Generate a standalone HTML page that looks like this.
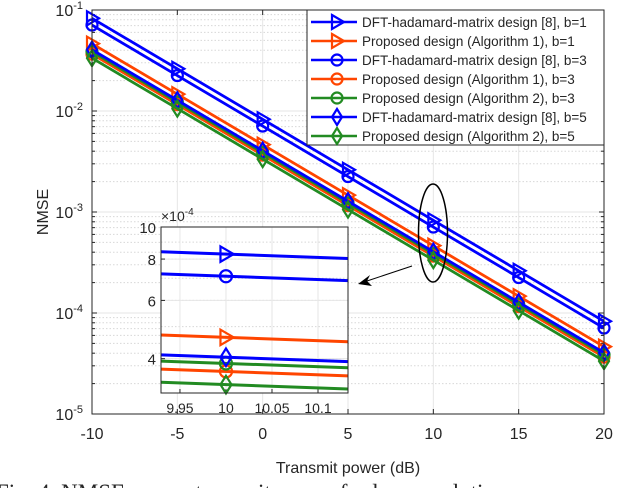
<!DOCTYPE html>
<html><head><meta charset="utf-8"><style>
body{margin:0;background:#fff;width:632px;height:488px;overflow:hidden}
svg text{font-family:"Liberation Sans",sans-serif;fill:#262626}
</style></head><body>
<svg id="c" width="632" height="488" xmlns="http://www.w3.org/2000/svg"></svg>
<script>
const xs=[-10,-5,0,5,10,15,20];
const names=["DFT-hadamard-matrix design [8], b=1","Proposed design (Algorithm 1), b=1","DFT-hadamard-matrix design [8], b=3","Proposed design (Algorithm 1), b=3","Proposed design (Algorithm 2), b=3","DFT-hadamard-matrix design [8], b=5","Proposed design (Algorithm 2), b=5"];
const colors=["#0000ff","#ff4500","#0000ff","#ff4500","#228b22","#0000ff","#228b22"];
const markers=["tri","tri","circ","circ","circ","diam","diam"];
const val10=[8.28e-4,4.64e-4,7.1e-4,3.66e-4,3.87e-4,4.04e-4,3.34e-4];
const xTicks=[-10,-5,0,5,10,15,20];
const yTicks=[-5,-4,-3,-2,-1];
const insetXTicks=[9.95,10,10.05,10.1];
const insetYTicks=[4,6,8,10];
const NS="http://www.w3.org/2000/svg";
const svg=document.getElementById('c');
function mk(t,a,p){const e=document.createElementNS(NS,t);for(const k in a)e.setAttribute(k,a[k]);(p||svg).appendChild(e);return e;}
const L=92,R=604,T=10,B=414;
const X=v=>L+(v+10)/30*(R-L);
const Y=v=>T+(-1-Math.log10(v))/4*(B-T);
const series=val10.map(v=>xs.map(x=>v*Math.pow(10,-(x-10)/10)));
for(let d=-5;d<-1;d++){for(let m=2;m<10;m++){const y=Y(m*Math.pow(10,d));const g=mk('line',{x1:L,x2:R,y1:y,y2:y,stroke:'#d8d8d8','stroke-dasharray':'1.5,2','stroke-width':1});}}
yTicks.forEach(t=>{const y=Y(Math.pow(10,t));const g=mk('line',{x1:L,x2:R,y1:y,y2:y,stroke:'#e6e6e6','stroke-width':1});
mk('line',{x1:L,x2:L+5,y1:y,y2:y,stroke:'#262626'});mk('line',{x1:R,x2:R-5,y1:y,y2:y,stroke:'#262626'});
const tx=mk('text',{x:L-9,y:y+6,'text-anchor':'end','font-size':16});tx.innerHTML='10<tspan dy="-7" font-size="11">'+t+'</tspan>';});
for(let d=-5;d<-1;d++)for(let m=2;m<10;m++){const y=Y(m*Math.pow(10,d));mk('line',{x1:L,x2:L+3,y1:y,y2:y,stroke:'#262626'});mk('line',{x1:R,x2:R-3,y1:y,y2:y,stroke:'#262626'});}
xTicks.forEach(t=>{const x=X(t);const g=mk('line',{x1:x,x2:x,y1:T,y2:B,stroke:'#e6e6e6'});
mk('line',{x1:x,x2:x,y1:B,y2:B-5,stroke:'#262626'});mk('line',{x1:x,x2:x,y1:T,y2:T+5,stroke:'#262626'});
const tx=mk('text',{x:x,y:B+25,'text-anchor':'middle','font-size':16});tx.textContent=t;});
function marker(type,x,y,c,p,s){s=s||1;let e;if(type==='tri')e=mk('path',{d:`M${x-5*s},${y-7*s}L${x+7*s},${y}L${x-5*s},${y+7*s}Z`,fill:'none',stroke:c,'stroke-width':2.2},p);
else if(type==='circ')e=mk('circle',{cx:x,cy:y,r:5.5*s,fill:'none',stroke:c,'stroke-width':2.2},p);
else e=mk('path',{d:`M${x},${y-8*s}L${x+5*s},${y}L${x},${y+8*s}L${x-5*s},${y}Z`,fill:'none',stroke:c,'stroke-width':2.2},p);return e;}
series.forEach((s,i)=>{const g=mk('g',{});
mk('polyline',{points:s.map((v,j)=>X(xs[j])+','+Y(v)).join(' '),fill:'none',stroke:colors[i],'stroke-width':2.8},g);
s.forEach((v,j)=>marker(markers[i],X(xs[j]),Y(v),colors[i],g));});
const ax=mk('rect',{x:L,y:T,width:R-L,height:B-T,fill:'none',stroke:'#262626','stroke-width':1});
let t=mk('text',{x:348,y:473,'text-anchor':'middle','font-size':16});t.textContent='Transmit power (dB)';
t=mk('text',{x:0,y:0,'text-anchor':'middle','font-size':16,transform:'translate(48,212) rotate(-90)'});t.textContent='NMSE';
t=mk('text',{x:-4,y:500,'font-size':23});t.setAttribute('style','font-family:"Liberation Serif",serif');t.textContent='Fig. 4. NMSE versus transmit power for low-resolution';
const el=mk('ellipse',{cx:433,cy:233,rx:14.5,ry:49,fill:'none',stroke:'#000','stroke-width':1.5});
const ar=mk('line',{x1:412,y1:266,x2:364,y2:282,stroke:'#000','stroke-width':1});
mk('path',{d:'M358,284L370,275L367,281L372,286Z',fill:'#000'});
const lg=mk('g',{});
mk('rect',{x:307,y:10,width:297,height:135,fill:'#fff',stroke:'#262626'},lg);
names.forEach((n,i)=>{const y=22+i*19;const e=mk('g',{},lg);
mk('line',{x1:311,x2:357,y1:y,y2:y,stroke:colors[i],'stroke-width':2.5},e);marker(markers[i],337,y,colors[i],e);
const tx=mk('text',{x:362,y:y+5,'font-size':13.5},e);tx.textContent=n;});
const iL=161,iR=348,iT=227,iB=393,ix0=9.9294,ix1=10.1326,iy0=3.15e-4,iy1=1e-3;
const IX=v=>iL+(v-ix0)/(ix1-ix0)*(iR-iL);
const IY=v=>iT+(Math.log10(iy1)-Math.log10(v))/(Math.log10(iy1)-Math.log10(iy0))*(iB-iT);
const ig=mk('g',{});
mk('rect',{x:iL,y:iT,width:iR-iL,height:iB-iT,fill:'#fff'},ig);
for(let m=4;m<=9;m++){const y=IY(m*1e-4);mk('line',{x1:iL,x2:iR,y1:y,y2:y,stroke:'#d8d8d8','stroke-dasharray':'1.5,2'},ig);}
insetYTicks.forEach(v=>{const y=IY(v*1e-4);mk('line',{x1:iL,x2:iR,y1:y,y2:y,stroke:'#e6e6e6'},ig);mk('line',{x1:iL,x2:iL+4,y1:y,y2:y,stroke:'#262626'},ig);
const tx=mk('text',{x:iL-5,y:y+6,'text-anchor':'end','font-size':15},ig);tx.textContent=v;});
insetXTicks.forEach(v=>{const x=IX(v);mk('line',{x1:x,x2:x,y1:iT,y2:iB,stroke:'#e6e6e6'},ig);mk('line',{x1:x,x2:x,y1:iB,y2:iB-4,stroke:'#262626'},ig);
const tx=mk('text',{x:x,y:iB+20,'text-anchor':'middle','font-size':14},ig);tx.textContent=v;});
const slope=ix=>Math.pow(10,-(ix-10)/10);
val10.forEach((v,i)=>{const s=mk('g',{},ig);
mk('line',{x1:iL,x2:iR,y1:IY(v*slope(ix0)),y2:IY(v*slope(ix1)),stroke:colors[i],'stroke-width':3},s);
marker(markers[i],IX(10),IY(v),colors[i],s,1.1);});
mk('rect',{x:iL,y:iT,width:iR-iL,height:iB-iT,fill:'none',stroke:'#262626'},ig);
t=mk('text',{x:iL,y:iT-6,'font-size':14},ig);t.innerHTML='×10<tspan dy="-6" font-size="10">-4</tspan>';
</script>
</body></html>
